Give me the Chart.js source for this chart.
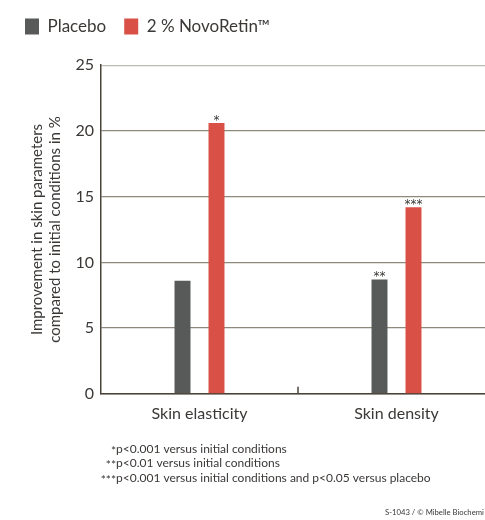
<!DOCTYPE html>
<html>
<head>
<meta charset="utf-8">
<script src="https://cdn.jsdelivr.net/npm/chart.js@4/dist/chart.umd.min.js"></script>
<style>
  html, body { margin: 0; padding: 0; background: #fff; overflow: hidden; }
  #wrap { position: absolute; left: 0; top: 0; width: 500px; height: 520px; }
</style>
</head>
<body>
<div id="wrap"><canvas id="c" width="500" height="520"></canvas></div>
<script>
const categories = ['Skin elasticity', 'Skin density'];
const seriesNames = ['Placebo', '2 % NovoRetin\u2122'];
const placeboValues = [8.6, 8.7];
const novoValues = [20.6, 14.2];
const placeboMarks = ['', '**'];
const novoMarks = ['*', '***'];
const yTicks = [0, 5, 10, 15, 20, 25];
const axisTitle = ['Improvement in skin parameters', 'compared to initial conditions in %'];
const footStars = ['*', '**', '***'];
const footTexts = ['p<0.001 versus initial conditions', 'p<0.01 versus initial conditions', 'p<0.001 versus initial conditions and p<0.05 versus placebo'];
const footer = 'S-1043 / \u00a9 Mibelle Biochemi';

const FONT = 'Lato, "Open Sans", sans-serif';
const TXT = '#3b3836';

const extras = {
  id: 'extras',
  afterDatasetsDraw(chart) {
    const ctx = chart.ctx;
    const x = chart.scales.x, y = chart.scales.y;
    ctx.save();
    // middle tick
    const mid = (x.getPixelForValue(0) + x.getPixelForValue(1)) / 2;
    ctx.strokeStyle = '#4a4339';
    ctx.lineWidth = 1.5;
    ctx.beginPath();
    ctx.moveTo(mid, y.bottom);
    ctx.lineTo(mid, y.bottom - 7);
    ctx.stroke();
    // significance marks
    ctx.fillStyle = TXT;
    ctx.font = '12px "DejaVu Sans", sans-serif';
    ctx.textAlign = 'center';
    ctx.textBaseline = 'alphabetic';
    [placeboMarks, novoMarks].forEach((marks, di) => {
      const meta = chart.getDatasetMeta(di);
      meta.data.forEach((bar, i) => {
        if (marks[i]) ctx.fillText(marks[i], bar.x, bar.y + 1);
      });
    });
    // footnotes
    ctx.font = '12px ' + FONT;
    ctx.textBaseline = 'middle';
    footStars.forEach((s, i) => {
      const yy = 449 + i * 14.5;
      ctx.textAlign = 'right';
      ctx.fillText(s, 116, yy + 2);
      ctx.textAlign = 'left';
      ctx.fillText(footTexts[i], 116, yy);
    });
    ctx.font = '7.7px ' + FONT;
    ctx.textAlign = 'left';
    ctx.fillText(footer, 385, 513);
    ctx.restore();
  }
};

new Chart(document.getElementById('c'), {
  type: 'bar',
  data: {
    labels: categories,
    datasets: [
      { label: seriesNames[0], data: placeboValues, backgroundColor: '#575a59', borderWidth: 0 },
      { label: seriesNames[1], data: novoValues, backgroundColor: '#d95046', borderWidth: 0 }
    ]
  },
  options: {
    responsive: false,
    animation: false,
    devicePixelRatio: 1,
    categoryPercentage: 0.345,
    barPercentage: 0.47,
    layout: { padding: { left: 7, right: 5, top: 0, bottom: 95 } },
    plugins: {
      tooltip: { enabled: false },
      legend: {
        position: 'top',
        align: 'start',
        labels: {
          boxWidth: 14,
          boxHeight: 16,
          padding: 18,
          color: TXT,
          font: { family: FONT, size: 17 }
        }
      },
      title: {
        display: true,
        text: ' ',
        weight: 500,
        font: { size: 1 },
        padding: { top: 0, bottom: 19 }
      }
    },
    scales: {
      x: {
        grid: { display: false },
        border: { display: true, color: '#4a4339', width: 1.5 },
        ticks: { color: TXT, font: { family: FONT, size: 16 }, padding: 2 }
      },
      y: {
        min: 0, max: 25,
        afterBuildTicks(scale) { scale.ticks = yTicks.map(v => ({ value: v })); },
        afterFit(scale) { scale.width = 94; },
        grid: {
          drawTicks: false,
          color: ctx => ctx.tick && ctx.tick.value === 25 ? '#bdbab6' : '#8f887d',
          lineWidth: 1.3
        },
        border: { display: true, color: '#4a4339', width: 1.5 },
        ticks: { color: TXT, font: { family: FONT, size: 16 }, padding: 7 },
        title: {
          display: true,
          text: axisTitle,
          color: TXT,
          font: { family: FONT, size: 15, lineHeight: 1.2 },
          padding: { top: 21, bottom: 4 }
        }
      }
    }
  },
  plugins: [extras]
});
</script>
</body>
</html>
